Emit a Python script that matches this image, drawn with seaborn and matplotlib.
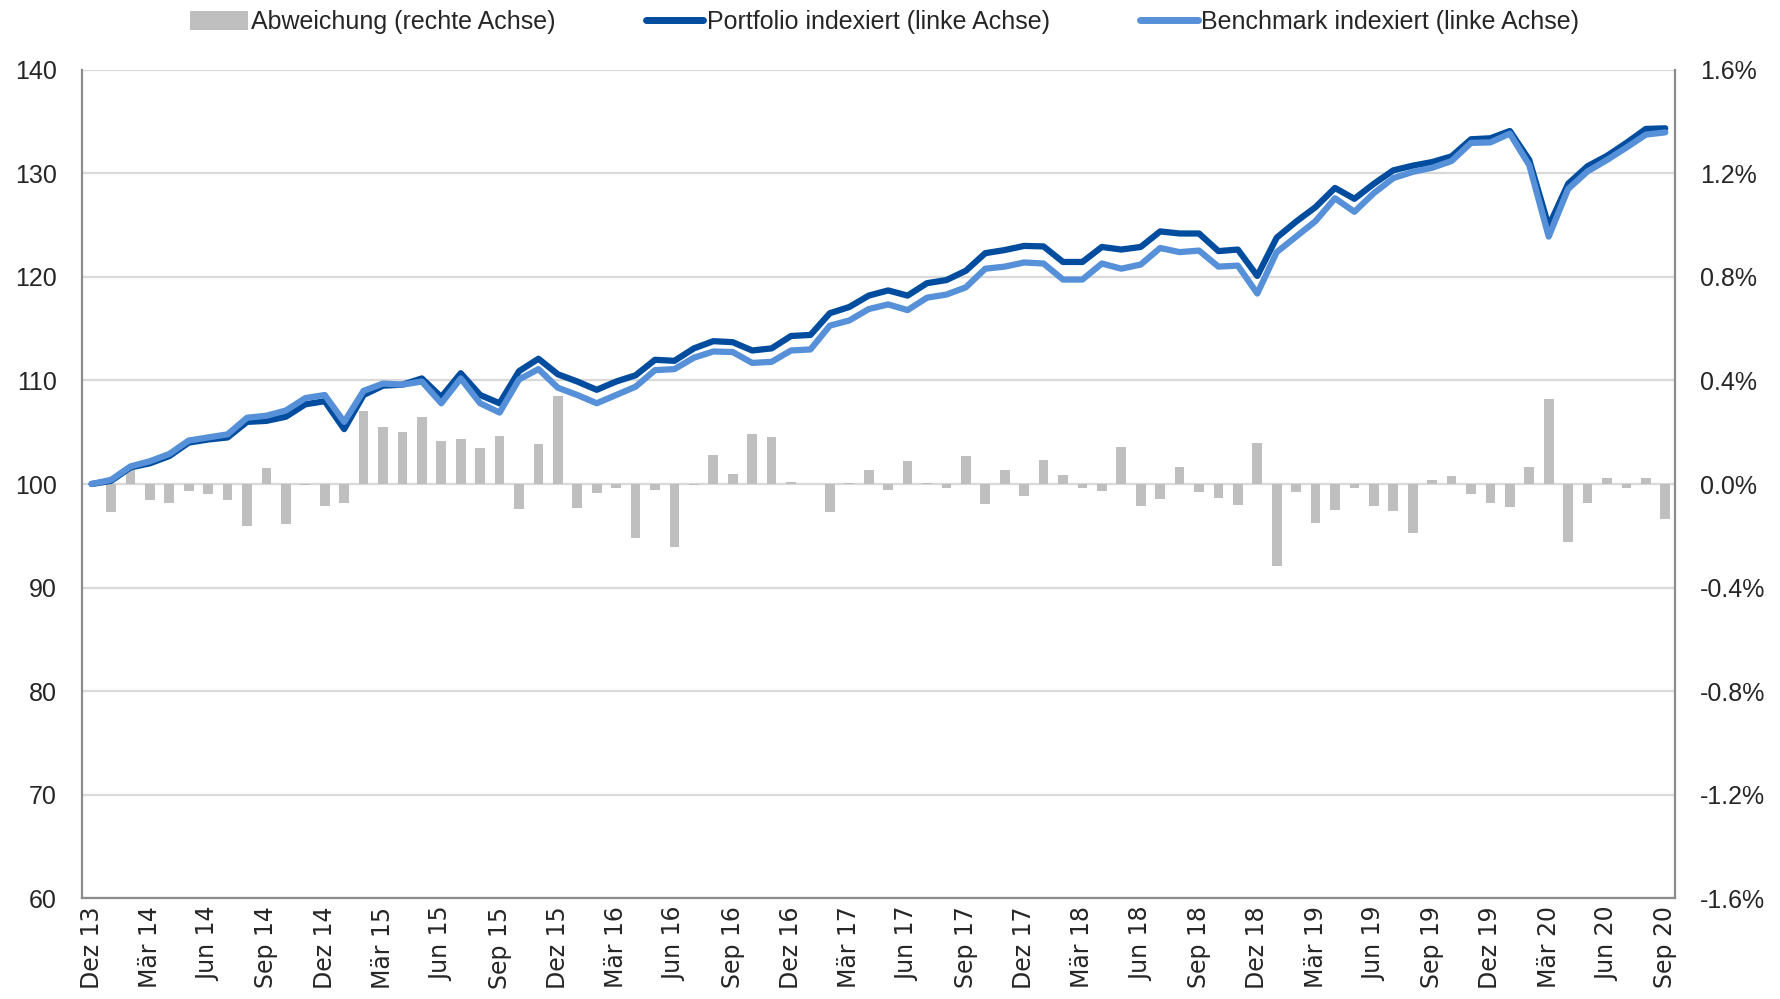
"""Portfolio vs. Benchmark, indexiert, mit monatlicher Abweichung."""

import numpy as np
import matplotlib
matplotlib.use("Agg")
import matplotlib.pyplot as plt
import seaborn as sns
from matplotlib.lines import Line2D
from matplotlib.patches import Patch
from matplotlib.ticker import FixedLocator, FuncFormatter


# ====== Daten (Dez 13 bis Sep 20, monatlich) ======
portfolio = [
    100.0, 100.3, 101.6, 102.0, 102.7, 104.0, 104.3, 104.5, 106.0, 106.1,
    106.5, 107.7, 108.0, 105.3, 108.6, 109.5, 109.6, 110.2, 108.4, 110.7,
    108.6, 107.8, 110.9, 112.1, 110.6, 109.9, 109.1, 109.9, 110.5, 112.0,
    111.9, 113.1, 113.8, 113.7, 112.9, 113.1, 114.3, 114.4, 116.5, 117.1,
    118.2, 118.7, 118.2, 119.4, 119.7, 120.6, 122.3, 122.6, 123.0, 122.95,
    121.45, 121.45, 122.9, 122.65, 122.9, 124.4, 124.2, 124.2, 122.5, 122.65,
    120.1, 123.8, 125.35, 126.75, 128.6, 127.55, 129.0, 130.3, 130.75, 131.1,
    131.65, 133.3, 133.4, 134.1, 131.3, 124.9, 129.0, 130.7, 131.7, 132.95,
    134.3, 134.36,
]

benchmark = [
    100.0, 100.4, 101.7, 102.2, 102.9, 104.2, 104.5, 104.8, 106.4, 106.6,
    107.1, 108.3, 108.6, 106.0, 109.0, 109.7, 109.6, 109.9, 107.8, 110.2,
    107.8, 106.9, 110.1, 111.1, 109.3, 108.6, 107.8, 108.6, 109.4, 111.0,
    111.1, 112.2, 112.8, 112.75, 111.7, 111.8, 112.9, 113.0, 115.3, 115.8,
    116.9, 117.35, 116.8, 118.0, 118.3, 119.0, 120.8, 121.0, 121.4, 121.3,
    119.75, 119.75, 121.3, 120.8, 121.2, 122.8, 122.4, 122.55, 121.0, 121.1,
    118.4, 122.4, 123.9, 125.4, 127.6, 126.3, 128.1, 129.55, 130.15, 130.55,
    131.2, 132.95, 133.0, 133.85, 130.8, 123.9, 128.5, 130.2, 131.3, 132.5,
    133.75, 133.97,
]

# Abweichung in % (Jan 14 bis Sep 20)
abweichung = [
    -0.110, 0.055, -0.063, -0.075, -0.028, -0.040, -0.063, -0.164, 0.062,
    -0.155, -0.003, -0.084, -0.075, 0.282, 0.220, 0.201, 0.260, 0.166,
    0.175, 0.138, 0.187, -0.097, 0.156, 0.339, -0.093, -0.034, -0.015,
    -0.210, -0.022, -0.245, -0.003, 0.111, 0.037, 0.195, 0.182, 0.009,
    0.001, -0.108, 0.005, 0.053, -0.022, 0.090, 0.003, -0.014, 0.107,
    -0.079, 0.055, -0.045, 0.094, 0.036, -0.014, -0.027, 0.144, -0.086,
    -0.059, 0.067, -0.030, -0.054, -0.083, 0.159, -0.315, -0.030, -0.150,
    -0.102, -0.014, -0.085, -0.104, -0.191, 0.015, 0.030, -0.037, -0.072,
    -0.089, 0.064, 0.330, -0.223, -0.072, 0.022, -0.014, 0.022, -0.135,
]

tick_labels = [
    "Dez 13", "Mär 14", "Jun 14", "Sep 14", "Dez 14", "Mär 15", "Jun 15",
    "Sep 15", "Dez 15", "Mär 16", "Jun 16", "Sep 16", "Dez 16", "Mär 17",
    "Jun 17", "Sep 17", "Dez 17", "Mär 18", "Jun 18", "Sep 18", "Dez 18",
    "Mär 19", "Jun 19", "Sep 19", "Dez 19", "Mär 20", "Jun 20", "Sep 20",
]

# ====== Stil ======
DARK = "#004C9E"
LIGHT = "#5590D8"
GREY_BAR = "#BFBFBF"
GRID = "#D9D9D9"
SPINE = "#8C8C8C"
TEXT_FONT = ["Liberation Sans", "DejaVu Sans"]


def pct(v, _):
    """Prozentformat ohne -0.0%."""
    if abs(v) < 1e-9:
        v = 0.0
    return f"{v:.1f}%"


def main():
    sns.set_theme(style="white")
    plt.rcParams["font.family"] = TEXT_FONT

    x = np.arange(len(portfolio)) + 0.5

    fig = plt.figure(figsize=(17.8, 9.99), dpi=100)
    ax = fig.add_axes([0.046, 0.101, 0.895, 0.829])
    ax2 = ax.twinx()

    # Balken auf rechter Achse (hinten)
    sns.barplot(x=x[1:], y=abweichung, native_scale=True, color=GREY_BAR,
                width=0.5, saturation=1, linewidth=0, ax=ax2, zorder=2)

    # Linien auf linker Achse (vorne)
    sns.lineplot(x=x, y=portfolio, color=DARK, linewidth=4.5, ax=ax, zorder=3)
    sns.lineplot(x=x, y=benchmark, color=LIGHT, linewidth=4.5, ax=ax, zorder=4)

    ax.set_zorder(ax2.get_zorder() + 1)
    ax.patch.set_visible(False)

    ax.set_xlim(0, 82)
    ax.set_ylim(60, 140)
    ax.set_yticks(range(60, 141, 10))
    ax2.set_ylim(-1.6, 1.6)
    ax2.set_yticks(np.arange(-1.6, 1.61, 0.4))
    ax2.yaxis.set_major_formatter(FuncFormatter(pct))

    # Beschriftung mittig, Gitter an den Quartalsgrenzen
    ax.xaxis.set_major_locator(FixedLocator(np.arange(0, 82, 3) + 0.5))
    ax.set_xticklabels(tick_labels, rotation=90, fontsize=17,
                       family="DejaVu Sans")
    ax.xaxis.set_minor_locator(FixedLocator(np.arange(0, 82, 3)))
    ax2.set_xlim(0, 82)

    ax2.grid(True, axis="y", color=GRID, linewidth=1.6)
    ax2.grid(True, axis="x", which="minor", color=GRID, linewidth=1.6)
    ax.grid(False)

    ax.tick_params(axis="y", labelsize=18, length=0, pad=18)
    ax2.tick_params(axis="y", labelsize=18, length=0, pad=18)
    ax.tick_params(axis="x", which="both", length=0, pad=6)
    ax.set_xlabel("")
    ax.set_ylabel("")
    ax2.set_ylabel("")

    for a in (ax, ax2):
        for side in ("left", "right", "top", "bottom"):
            a.spines[side].set_visible(False)
    for side in ("left", "bottom"):
        ax.spines[side].set_visible(True)
        ax.spines[side].set_color(SPINE)
        ax.spines[side].set_linewidth(1.6)
    ax2.spines["right"].set_visible(True)
    ax2.spines["right"].set_color(SPINE)
    ax2.spines["right"].set_linewidth(1.6)

    if ax.get_legend():
        ax.get_legend().remove()

    handles = [
        Patch(facecolor=GREY_BAR, edgecolor="none"),
        Line2D([], [], color=DARK, linewidth=5),
        Line2D([], [], color=LIGHT, linewidth=5),
    ]
    labels = [
        "Abweichung (rechte Achse)",
        "Portfolio indexiert (linke Achse)",
        "Benchmark indexiert (linke Achse)",
    ]
    fig.legend(handles, labels, loc="center", bbox_to_anchor=(0.497, 0.978),
               ncol=3, frameon=False, fontsize=18, handlelength=2.3,
               handleheight=0.8, handletextpad=0.15, columnspacing=3.6)

    fig.savefig("out.png", dpi=100)


if __name__ == "__main__":
    main()
